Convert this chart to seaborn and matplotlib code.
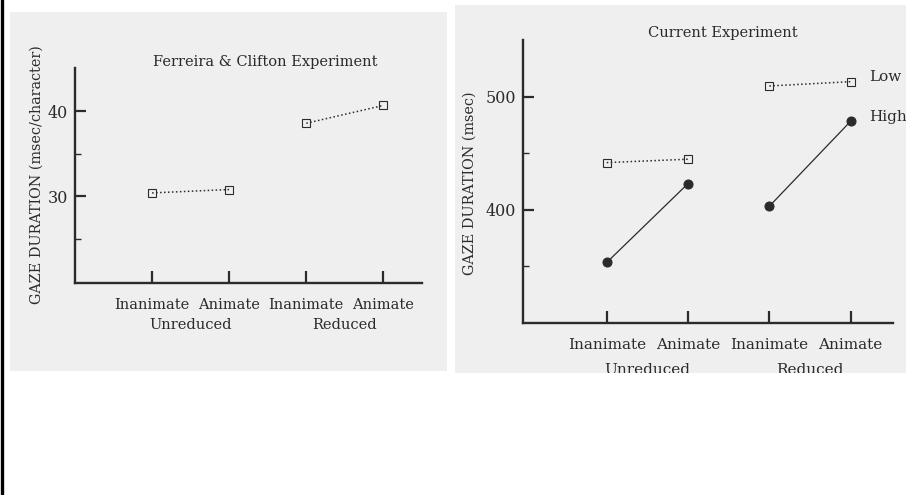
import numpy as np
import pandas as pd
import matplotlib
matplotlib.use('Agg')
import matplotlib.pyplot as plt
import seaborn as sns
from matplotlib.patches import Rectangle

sns.set_theme(style='white')
plt.rcParams['font.family'] = ['DejaVu Serif']

# data
animacy = ['Inanimate', 'Animate', 'Inanimate', 'Animate']
reduction = ['Unreduced', 'Unreduced', 'Reduced', 'Reduced']
fc_gaze = [30.4, 30.8, 38.6, 40.7]          # Ferreira & Clifton, msec/character
cur_low = [441.7, 444.7, 509.4, 513.2]      # current experiment, low constraint
cur_high = [353.5, 423.2, 403.2, 478.3]     # current experiment, high constraint

ink = '#2b2b2b'
W, H = 906, 495

fig = plt.figure(figsize=(W / 100, H / 100), dpi=100)
fig.patch.set_facecolor('white')


def px_rect(x0, y0, x1, y1):
    return [x0 / W, 1 - y1 / H, (x1 - x0) / W, (y1 - y0) / H]


# grey scanned panels + black left border
panels = []
for box in [(10, 12, 447, 371), (455, 5, 906, 373)]:
    l, b, w, h = px_rect(*box)
    r = Rectangle((l, b), w, h, transform=fig.transFigure, facecolor='#efefef',
                  edgecolor='none', zorder=-5)
    fig.patches.append(r)
    panels.append(r)
fig.add_artist(plt.Line2D([1.5 / W, 1.5 / W], [0, 1], color='black', lw=2.4,
                          transform=fig.transFigure, zorder=-4))

pos = np.arange(len(animacy))
fc_df = pd.DataFrame({'pos': pos, 'gaze': fc_gaze, 'reduction': reduction})
cur_df = pd.DataFrame({'pos': np.concatenate([pos, pos]),
                       'gaze': cur_low + cur_high,
                       'reduction': reduction + reduction,
                       'constraint': ['Low'] * 4 + ['High'] * 4})

low_kw = dict(marker='s', markersize=5.5, markerfacecolor='none', markeredgecolor=ink,
              markeredgewidth=0.8, color=ink, linestyle=(0, (1, 1.6)), linewidth=1.1)
high_kw = dict(marker='o', markersize=6.5, markerfacecolor=ink, markeredgecolor=ink,
               color=ink, linestyle='-', linewidth=0.9)


def style_axis(ax, major, minor, lim, xlim, clip, fs, grp_off):
    ax.set_facecolor('none')
    for s in ['top', 'right']:
        ax.spines[s].set_visible(False)
    for s in ['left', 'bottom']:
        ax.spines[s].set_color(ink)
        ax.spines[s].set_linewidth(1.7)
    ax.set_xlim(*xlim)
    ax.set_ylim(*lim)
    ax.set_yticks(major)
    ax.set_yticks(minor, minor=True)
    ax.set_xticks(pos, animacy)
    ax.tick_params(axis='y', which='major', direction='in', length=8, width=1.6,
                   colors=ink, labelsize=11.5, pad=5, left=True)
    ax.tick_params(axis='y', which='minor', direction='in', length=4, width=1.0,
                   colors=ink, left=True)
    ax.tick_params(axis='x', direction='in', length=8.5, width=1.6, colors=ink,
                   labelsize=fs, pad=11, bottom=True)
    ax.set_xlabel('')
    ax.set_ylabel('')
    for grp in ['Unreduced', 'Reduced']:
        xs = [p for p, g in zip(pos, reduction) if g == grp]
        t = ax.annotate(grp, xy=(np.mean(xs), 0), xycoords=('data', 'axes fraction'),
                        xytext=(0, -grp_off), textcoords='offset points', ha='center',
                        va='center', fontsize=fs, color=ink, annotation_clip=False)
        t.set_clip_on(True)
        t.set_clip_path(clip)


# left panel: Ferreira & Clifton
ax1 = fig.add_axes(px_rect(75, 68, 422, 283))
sns.lineplot(data=fc_df, x='pos', y='gaze', units='reduction', estimator=None,
             ax=ax1, legend=False, **low_kw)
style_axis(ax1, [30, 40], [25, 35], (19.8, 45.1), (-1.0, 3.5), panels[0], 10.5, 30)
fig.text(265 / W, 1 - 62 / H, 'Ferreira & Clifton Experiment', ha='center',
         va='center', fontsize=10.5, color=ink)
fig.text(37 / W, 1 - 175 / H, 'GAZE DURATION (msec/character)', rotation=90,
         ha='center', va='center', fontsize=10.4, color=ink)

# right panel: current experiment
ax2 = fig.add_axes(px_rect(523, 40, 893, 323))
sns.lineplot(data=cur_df[cur_df['constraint'] == 'Low'], x='pos', y='gaze',
             units='reduction', estimator=None, ax=ax2, legend=False, **low_kw)
sns.lineplot(data=cur_df[cur_df['constraint'] == 'High'], x='pos', y='gaze',
             units='reduction', estimator=None, ax=ax2, legend=False, **high_kw)
style_axis(ax2, [400, 500], [350, 450], (300, 550), (-1.03, 3.52), panels[1], 11, 34)
fig.text(723 / W, 1 - 33 / H, 'Current Experiment', ha='center', va='center',
         fontsize=10.5, color=ink)
fig.text(470 / W, 1 - 183 / H, 'GAZE DURATION (msec)', rotation=90,
         ha='center', va='center', fontsize=10.4, color=ink)
for name, vals, dy in [('Low', cur_low, 3.5), ('High', cur_high, 3)]:
    ax2.annotate(name, xy=(pos[-1], vals[-1]), xytext=(13, dy),
                 textcoords='offset points', ha='left', va='center',
                 fontsize=11, color=ink, annotation_clip=False)

fig.savefig('out.png', dpi=100)
